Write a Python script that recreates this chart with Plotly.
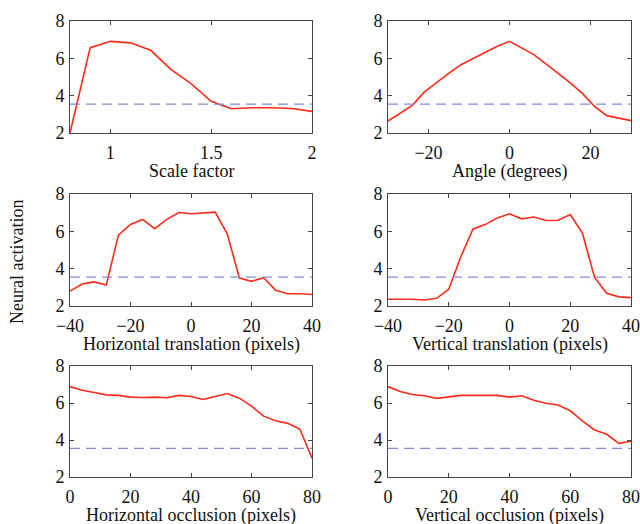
import plotly.graph_objects as go

# ---- data ----
scale_x = [0.8, 0.9, 1.0, 1.1, 1.2, 1.3, 1.4, 1.5, 1.6, 1.7, 1.8, 1.9, 2.0]
scale_y = [2.0, 6.57, 6.91, 6.83, 6.43, 5.41, 4.64, 3.70, 3.30, 3.35, 3.35, 3.31, 3.16]

angle_x = [-30, -27, -24, -21, -18, -15, -12, -9, -6, -3, 0, 3, 6, 9, 12, 15, 18, 21, 24, 27, 30]
angle_y = [2.64, 3.05, 3.48, 4.2, 4.72, 5.2, 5.66, 6.0, 6.32, 6.65, 6.91, 6.56, 6.2, 5.7, 5.2, 4.68, 4.12, 3.42, 2.93, 2.8, 2.66]

htrans_x = list(range(-40, 41, 4))
htrans_y = [2.80, 3.18, 3.29, 3.13, 5.80, 6.37, 6.64, 6.14, 6.64, 7.01, 6.94, 6.98, 7.03,
            5.85, 3.50, 3.32, 3.52, 2.84, 2.66, 2.66, 2.62]

vtrans_x = list(range(-40, 41, 4))
vtrans_y = [2.36, 2.37, 2.36, 2.32, 2.41, 2.90, 4.65, 6.13, 6.36, 6.72, 6.94, 6.67, 6.77,
            6.58, 6.59, 6.90, 5.91, 3.53, 2.68, 2.49, 2.45]

hocc_x = list(range(0, 81, 4))
hocc_y = [6.89, 6.69, 6.57, 6.44, 6.41, 6.32, 6.30, 6.32, 6.28, 6.41, 6.35, 6.19, 6.35,
          6.51, 6.26, 5.83, 5.29, 5.04, 4.90, 4.58, 3.02]

vocc_x = list(range(0, 81, 4))
vocc_y = [6.89, 6.62, 6.46, 6.39, 6.25, 6.35, 6.41, 6.42, 6.42, 6.41, 6.32, 6.39, 6.15,
          5.99, 5.89, 5.58, 5.03, 4.54, 4.31, 3.82, 3.93]

threshold = 3.55

panels = [
    ("Scale factor", scale_x, scale_y, [0.8, 2], [1, 1.5, 2]),
    ("Angle (degrees)", angle_x, angle_y, [-30, 30], [-20, 0, 20]),
    ("Horizontal translation (pixels)", htrans_x, htrans_y, [-40, 40], [-40, -20, 0, 20, 40]),
    ("Vertical translation (pixels)", vtrans_x, vtrans_y, [-40, 40], [-40, -20, 0, 20, 40]),
    ("Horizontal occlusion (pixels)", hocc_x, hocc_y, [0, 80], [0, 20, 40, 60, 80]),
    ("Vertical occlusion (pixels)", vocc_x, vocc_y, [0, 80], [0, 20, 40, 60, 80]),
]

W, H = 640, 524
xdoms = [(70, 312), (388, 631)]
ydoms = [(21, 133), (194, 306), (366, 477)]

FONT = "Liberation Serif, Times New Roman, serif"
FS = 18
fig = go.Figure()
annotations = []
for i, (title, xs, ys, xr, xt) in enumerate(panels):
    r, c = divmod(i, 2)
    n = "" if i == 0 else str(i + 1)
    xa, ya = "x" + n, "y" + n
    fig.add_trace(go.Scatter(x=xs, y=ys, mode="lines", xaxis=xa, yaxis=ya,
                             line=dict(color="#ff2a1a", width=1.6), showlegend=False))
    fig.add_trace(go.Scatter(x=xr, y=[threshold, threshold], mode="lines", xaxis=xa, yaxis=ya,
                             line=dict(color="#7f8fe0", width=1.3, dash="10px,6px"),
                             showlegend=False))
    x0, x1 = xdoms[c]
    y0, y1 = ydoms[r]
    common = dict(showline=True, linecolor="#444", linewidth=1, mirror="ticks",
                  ticks="inside", ticklen=4, tickcolor="#444", showgrid=False,
                  zeroline=False, tickfont=dict(family=FONT, size=FS, color="#111"),
                  automargin=False)
    fig.layout["xaxis" + n] = dict(domain=[x0 / W, x1 / W], range=xr, tickvals=xt,
                                   anchor=ya, ticklabelstandoff=3, **common)
    fig.layout["yaxis" + n] = dict(domain=[1 - y1 / H, 1 - y0 / H], range=[2, 8],
                                   tickvals=[2, 4, 6, 8], anchor=xa, ticklabelstandoff=1,
                                   **common)
    annotations.append(dict(text=title, xref="paper", yref="paper",
                            x=(x0 + x1) / 2 / W, y=1 - (y1 + 38) / H,
                            xanchor="center", yanchor="middle", showarrow=False,
                            font=dict(family=FONT, size=FS, color="#111")))

annotations.append(dict(text="Neural activation", xref="paper", yref="paper",
                        x=17 / W, y=1 - 262 / H, textangle=-90,
                        xanchor="center", yanchor="middle", showarrow=False,
                        font=dict(family=FONT, size=FS, color="#111")))

fig.update_layout(width=W, height=H, margin=dict(l=0, r=0, t=0, b=0),
                  paper_bgcolor="white", plot_bgcolor="white",
                  annotations=annotations)
fig.write_html("out.html")
